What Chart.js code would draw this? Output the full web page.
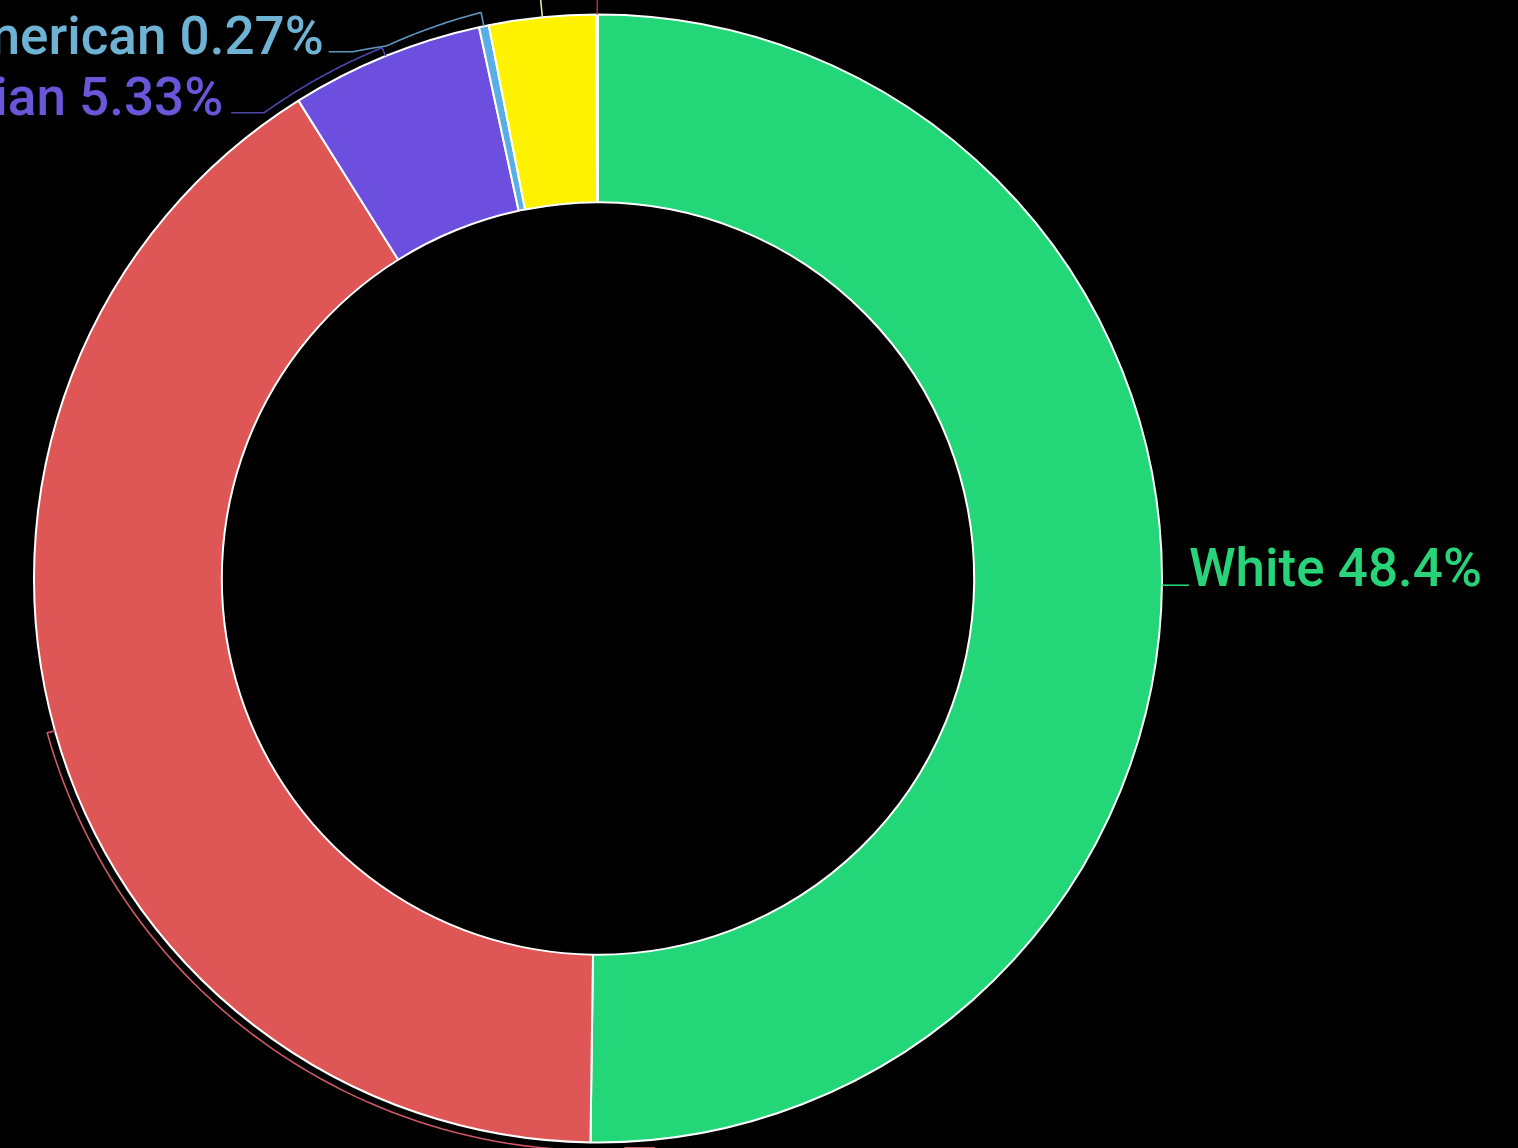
<!DOCTYPE html>
<html><head><meta charset="utf-8">
<script src="https://cdn.jsdelivr.net/npm/chart.js@4/dist/chart.umd.min.js"></script>
<style>html,body{margin:0;padding:0;background:#000;overflow:hidden}canvas{display:block}</style>
</head><body>
<canvas id="c" width="1518" height="1148"></canvas>
<script>
// ---- data ----
const categories = ['White', 'Black', 'Asian', 'Native American', 'Other', 'Pacific Islander'];
const values = [48.4, 39.4, 5.33, 0.27, 2.95, 0.04];

// ---- styles ----
const sliceColors = ['#23d778', '#de5656', '#6c4fde', '#5aaee6', '#fff200', '#a83232'];
const textColors = ['#27d47a', '#de5656', '#6a56d8', '#6fb3d4', '#f5ee60', '#b04040'];
const lineColors = ['#27d47a', '#cf5868', '#4a47a8', '#5e96c0', '#e9e4a6', '#9a3030'];

// leader layout: polar waypoints [dAngle(deg from slice mid), dRadius(px)], horizontal tail, text offsets
const leaderSpecs = [
  { pts: [[0.3, 0]], tail: 27, textDy: 1, gap: 0 },
  { pts: [[0, 0], [0, 8], [-80, 8]], tail: -30, textDy: 70, gap: 5 },
  { pts: [[0, 0], [0, 9], [-13.5, 9]], tail: -33, textDy: 2.5, gap: 8 },
  { pts: [[0, 0], [0, 14], [-10, 9], [-13.3, 17]], tail: -24, textDy: 2, gap: 5 },
  { pts: [[0, 0], [0, 90]], tail: -20, textDy: 2, gap: 5 },
  { pts: [[0, 0], [0, 90]], tail: 20, textDy: 2, gap: 1 }
];

const labelPlugin = {
  id: 'leaderLabels',
  afterDatasetsDraw(chart) {
    const ctx = chart.ctx;
    const meta = chart.getDatasetMeta(0);
    ctx.save();
    ctx.font = '500 53px Roboto, "DejaVu Sans", sans-serif';
    ctx.lineJoin = 'round';
    meta.data.forEach((arc, i) => {
      const spec = leaderSpecs[i];
      const cx = arc.x, cy = arc.y, R = arc.outerRadius;
      const mid = (arc.startAngle + arc.endAngle) / 2; // canvas radians
      const polar = (dA, dR) => [mid + dA * Math.PI / 180, R + dR];
      const toXY = (a, r) => [cx + r * Math.cos(a), cy + r * Math.sin(a)];
      ctx.strokeStyle = lineColors[i];
      ctx.lineWidth = 1.6;
      ctx.beginPath();
      let prev = null;
      spec.pts.forEach((p, k) => {
        const [a, r] = polar(p[0], p[1]);
        if (k === 0) {
          const [x, y] = toXY(a, r);
          ctx.moveTo(x, y);
        } else {
          const n = 60;
          for (let s = 1; s <= n; s++) {
            const t = s / n;
            const [x, y] = toXY(prev[0] + (a - prev[0]) * t, prev[1] + (r - prev[1]) * t);
            ctx.lineTo(x, y);
          }
        }
        prev = [a, r];
      });
      const last = toXY(prev[0], prev[1]);
      const tx = last[0] + spec.tail;
      ctx.lineTo(tx, last[1]);
      ctx.stroke();
      const text = categories[i] + ' ' + values[i] + '%';
      ctx.fillStyle = textColors[i];
      ctx.textBaseline = 'alphabetic';
      if (spec.tail >= 0) { ctx.textAlign = 'left'; ctx.fillText(text, tx + spec.gap, last[1] + spec.textDy); }
      else { ctx.textAlign = 'right'; ctx.fillText(text, tx - spec.gap, last[1] + spec.textDy); }
    });
    ctx.restore();
  }
};

new Chart(document.getElementById('c'), {
  type: 'doughnut',
  data: {
    labels: categories,
    datasets: [{
      data: values,
      backgroundColor: sliceColors,
      borderColor: '#ffffff',
      borderWidth: 2,
      hoverOffset: 0
    }]
  },
  options: {
    responsive: false,
    animation: false,
    radius: 564,
    cutout: '66.7%',
    layout: { padding: { left: 0, right: 322, top: 9, bottom: 0 } },
    plugins: { legend: { display: false }, tooltip: { enabled: false } }
  },
  plugins: [labelPlugin]
});
</script>
</body></html>
